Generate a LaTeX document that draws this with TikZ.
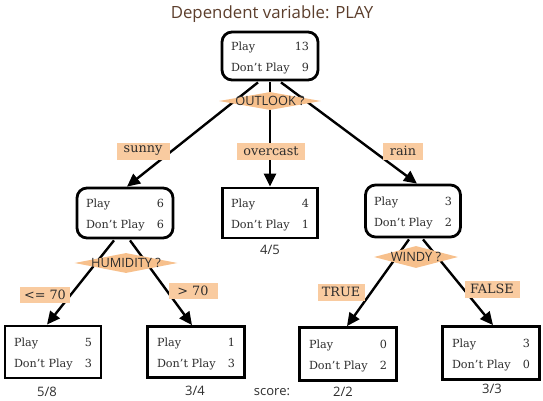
\documentclass[tikz,border=0pt]{standalone}
\usepackage{fontspec}
\setmainfont{DejaVu Serif}
\newfontfamily\labsans{Open Sans}
\usetikzlibrary{arrows.meta,shapes.geometric}
\definecolor{peach}{RGB}{249,203,160}
\definecolor{dpeach}{RGB}{247,192,140}
\definecolor{titlebrown}{RGB}{92,62,44}
\definecolor{txt}{RGB}{45,45,45}
\newcommand{\pdtab}[2]{\raisebox{-2.5pt}[\height][\depth]{\begin{tabular*}{78pt}{@{}l@{\extracolsep{\fill}}r@{}}Play & #1\\[8pt] Don't Play & #2\end{tabular*}}}
\tikzset{
  x=1pt,y=-1pt,
  rbox/.style={draw=black,line width=2.8pt,rounded corners=10pt,fill=white,inner sep=0pt,font=\fontsize{11.2}{13}\selectfont,text=txt},
  sbox/.style={draw=black,line width=2.8pt,fill=white,inner sep=0pt,font=\fontsize{11.2}{13}\selectfont,text=txt},
  lab/.style={fill=peach,inner sep=0pt,font=\fontsize{12.8}{14}\selectfont,text=txt},
  dia/.style={diamond,fill=dpeach,inner sep=0pt},
  diatext/.style={font=\labsans\fontsize{12.8}{14}\selectfont,text=txt},
  score/.style={font=\labsans\fontsize{13}{15}\selectfont,text=txt},
  edge/.style={line width=2.4pt,-{Triangle[length=13pt,width=12pt]}},
}
\begin{document}
\begin{tikzpicture}
\useasboundingbox (0,0) rectangle (543,401);
% title
\node[font=\labsans\fontsize{16.8}{18}\selectfont,text=titlebrown] (title) at (272,14) {Dependent variable: PLAY};
% boxes
\node[rbox,minimum width=96pt,minimum height=48pt] (root) at (270,56) {\pdtab{13}{9}};
\node[rbox,minimum width=96pt,minimum height=50pt] (sunny) at (125,213) {\pdtab{6}{6}};
\node[sbox,minimum width=95pt,minimum height=50pt] (over) at (270,213) {\pdtab{4}{1}};
\node[rbox,minimum width=95pt,minimum height=52pt] (rain) at (413,211) {\pdtab{3}{2}};
\node[sbox,minimum width=96pt,minimum height=52pt] (l1) at (53,352) {\pdtab{5}{3}};
\node[sbox,minimum width=97pt,minimum height=51pt] (l2) at (196,352) {\pdtab{1}{3}};
\node[sbox,minimum width=97pt,minimum height=53pt] (l3) at (348,354) {\pdtab{0}{2}};
\node[sbox,minimum width=97pt,minimum height=53pt] (l4) at (491,353) {\pdtab{3}{0}};
% edges
\draw[edge] ([xshift=-12pt,yshift=-1pt]root.south) -- ([xshift=2pt]sunny.north);
\draw[edge] ([yshift=-1pt]root.south) -- (over.north);
\draw[edge] ([xshift=11pt,yshift=-1pt]root.south) -- ([xshift=4pt]rain.north);
\draw[edge] ([xshift=-11pt,yshift=-1pt]sunny.south) -- ([xshift=-6pt]l1.north);
\draw[edge] ([xshift=5pt,yshift=-1pt]sunny.south) -- ([xshift=-4pt]l2.north);
\draw[edge] ([xshift=-4pt,yshift=-1pt]rain.south) -- ([xshift=-1pt]l3.north);
\draw[edge] ([xshift=10pt,yshift=-1pt]rain.south) -- ([xshift=2pt]l4.north);
% diamonds
\node[dia,minimum width=102pt,minimum height=18pt] (d1) at (270,101) {};
\node[diatext] (d1t) at (d1) {OUTLOOK ?};
\node[dia,minimum width=103pt,minimum height=20pt] (d2) at (126,263) {};
\node[diatext] (d2t) at (d2) {HUMIDITY ?};
\node[dia,minimum width=84pt,minimum height=22pt] (d3) at (416,257) {};
\node[diatext] (d3t) at (d3) {WINDY ?};
% branch labels
\node[lab,minimum width=53pt,minimum height=17pt] (e1) at (143,151) {sunny};
\node[lab,minimum width=68pt,minimum height=17pt] (e2) at (271,151) {overcast};
\node[lab,minimum width=40pt,minimum height=17pt] (e3) at (403,151) {rain};
\node[lab,minimum width=50pt,minimum height=16pt] (e4) at (45,295) {<= 70};
\node[lab,minimum width=49pt,minimum height=16pt] (e5) at (193,291) {> 70};
\node[lab,minimum width=47pt,minimum height=17pt] (e6) at (341,292) {TRUE};
\node[lab,minimum width=55pt,minimum height=17pt] (e7) at (492,289) {FALSE};
% scores
\node[score] (s1) at (47,392) {5/8};
\node[score] (s2) at (195,391) {3/4};
\node[score] (s0) at (272,392) {score:};
\node[score] (s3) at (270,250) {4/5};
\node[score] (s4) at (343,392) {2/2};
\node[score] (s5) at (492,389) {3/3};
\end{tikzpicture}
\end{document}
